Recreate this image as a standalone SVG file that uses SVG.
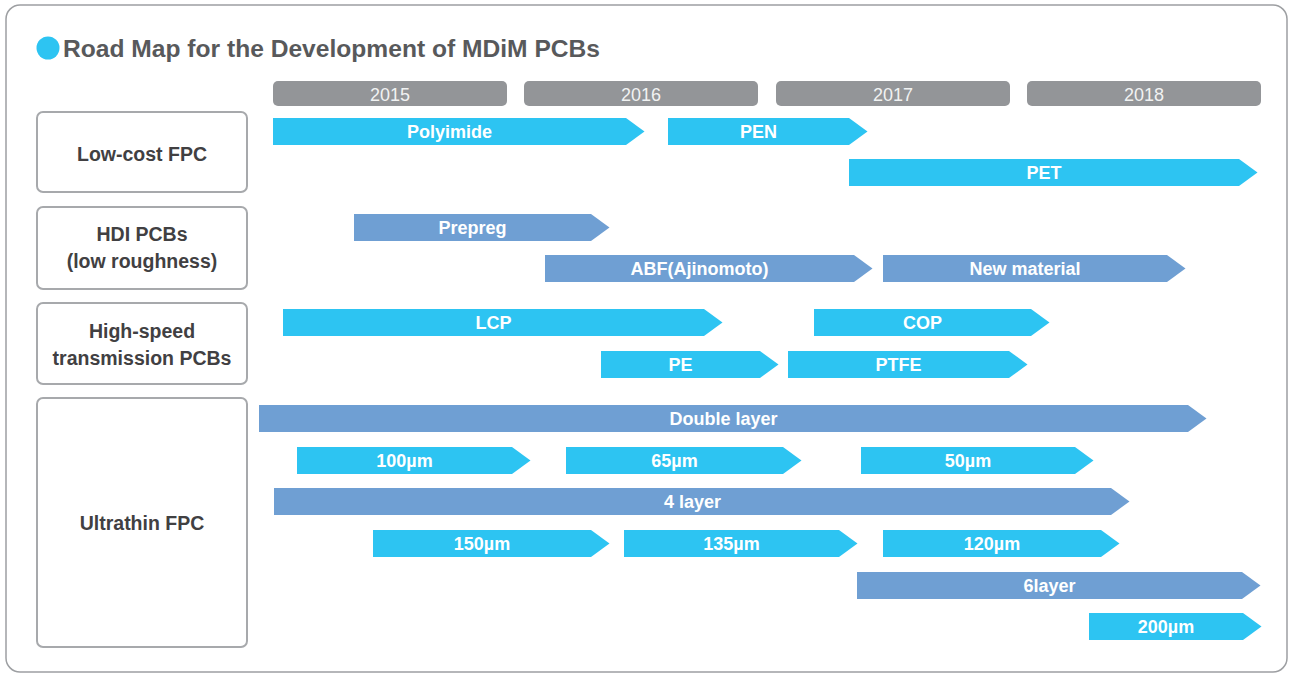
<svg xmlns="http://www.w3.org/2000/svg" width="1290" height="674" viewBox="0 0 1290 674">
<style>
.frame{fill:#fff;stroke:#9d9fa2;stroke-width:1.5}
.yr{fill:#939598}
.yt{font-family:"Liberation Sans",Arial,sans-serif;font-size:18px;fill:#f1f2f2;text-anchor:middle}
.cat{fill:#fff;stroke:#a7a9ac;stroke-width:2}
.ct{font-family:"Liberation Sans",Arial,sans-serif;font-size:19.5px;font-weight:bold;fill:#414042;text-anchor:middle}
.c{fill:#2dc4f2}
.b{fill:#6f9fd3}
.at{font-family:"Liberation Sans",Arial,sans-serif;font-size:18px;font-weight:bold;fill:#fff;text-anchor:middle}
.title{font-family:"Liberation Sans",Arial,sans-serif;font-size:24px;font-weight:bold;fill:#58595b}
</style>
<rect class="frame" x="6" y="5" width="1281" height="667" rx="14"/>
<g id="title">
<circle cx="48" cy="48" r="11.5" fill="#2dc4f2"/>
<text class="title" x="63" y="57" textLength="537" lengthAdjust="spacingAndGlyphs">Road Map for the Development of MDiM PCBs</text>
</g>
<g id="years">
<rect class="yr" x="273" y="81" width="234" height="25" rx="5"/><text class="yt" x="390" y="101">2015</text>
<rect class="yr" x="524" y="81" width="234" height="25" rx="5"/><text class="yt" x="641" y="101">2016</text>
<rect class="yr" x="776" y="81" width="234" height="25" rx="5"/><text class="yt" x="893" y="101">2017</text>
<rect class="yr" x="1027" y="81" width="234" height="25" rx="5"/><text class="yt" x="1144" y="101">2018</text>
</g>
<g id="cat-lowcost"><rect class="cat" x="37" y="112" width="210" height="80" rx="6"/><text class="ct" x="142" y="161">Low-cost FPC</text></g>
<g id="cat-hdi"><rect class="cat" x="37" y="207" width="210" height="82" rx="6"/><text class="ct" x="142" y="241">HDI PCBs</text><text class="ct" x="142" y="268">(low roughness)</text></g>
<g id="cat-highspeed"><rect class="cat" x="37" y="303" width="210" height="81" rx="6"/><text class="ct" x="142" y="338">High-speed</text><text class="ct" x="142" y="365">transmission PCBs</text></g>
<g id="cat-ultrathin"><rect class="cat" x="37" y="398" width="210" height="249" rx="6"/><text class="ct" x="142" y="530">Ultrathin FPC</text></g>
<g id="bars">
<g id="polyimide"><path class="c" d="M273 118H626L644.5 131.5L626 145H273Z"/><text class="at" x="449.5" y="138">Polyimide</text></g>
<g id="pen"><path class="c" d="M668 118H849L867.5 131.5L849 145H668Z"/><text class="at" x="758.5" y="138">PEN</text></g>
<g id="pet"><path class="c" d="M849 159H1239L1257.5 172.5L1239 186H849Z"/><text class="at" x="1044" y="179">PET</text></g>
<g id="prepreg"><path class="b" d="M354 214H591L609.5 227.5L591 241H354Z"/><text class="at" x="472.5" y="234">Prepreg</text></g>
<g id="abf"><path class="b" d="M545 255H854L872.5 268.5L854 282H545Z"/><text class="at" x="699.5" y="275">ABF(Ajinomoto)</text></g>
<g id="newmaterial"><path class="b" d="M883 255H1167L1185.5 268.5L1167 282H883Z"/><text class="at" x="1025" y="275">New material</text></g>
<g id="lcp"><path class="c" d="M283 309H704L722.5 322.5L704 336H283Z"/><text class="at" x="493.5" y="329">LCP</text></g>
<g id="cop"><path class="c" d="M814 309H1031L1049.5 322.5L1031 336H814Z"/><text class="at" x="922.5" y="329">COP</text></g>
<g id="pe"><path class="c" d="M601 351H760L778.5 364.5L760 378H601Z"/><text class="at" x="680.5" y="371">PE</text></g>
<g id="ptfe"><path class="c" d="M788 351H1009L1027.5 364.5L1009 378H788Z"/><text class="at" x="898.5" y="371">PTFE</text></g>
<g id="doublelayer"><path class="b" d="M259 405H1188L1206.5 418.5L1188 432H259Z"/><text class="at" x="723.5" y="425">Double layer</text></g>
<g id="u100"><path class="c" d="M297 447H512L530.5 460.5L512 474H297Z"/><text class="at" x="404.5" y="467">100µm</text></g>
<g id="u65"><path class="c" d="M566 447H783L801.5 460.5L783 474H566Z"/><text class="at" x="674.5" y="467">65µm</text></g>
<g id="u50"><path class="c" d="M861 447H1075L1093.5 460.5L1075 474H861Z"/><text class="at" x="968" y="467">50µm</text></g>
<g id="fourlayer"><path class="b" d="M274 488H1111L1129.5 501.5L1111 515H274Z"/><text class="at" x="692.5" y="508">4 layer</text></g>
<g id="u150"><path class="c" d="M373 530H591L609.5 543.5L591 557H373Z"/><text class="at" x="482" y="550">150µm</text></g>
<g id="u135"><path class="c" d="M624 530H839L857.5 543.5L839 557H624Z"/><text class="at" x="731.5" y="550">135µm</text></g>
<g id="u120"><path class="c" d="M883 530H1101L1119.5 543.5L1101 557H883Z"/><text class="at" x="992" y="550">120µm</text></g>
<g id="sixlayer"><path class="b" d="M857 572H1242L1260.5 585.5L1242 599H857Z"/><text class="at" x="1049.5" y="592">6layer</text></g>
<g id="u200"><path class="c" d="M1089 613H1243L1261.5 626.5L1243 640H1089Z"/><text class="at" x="1166" y="633">200µm</text></g>
</g>
</svg>
